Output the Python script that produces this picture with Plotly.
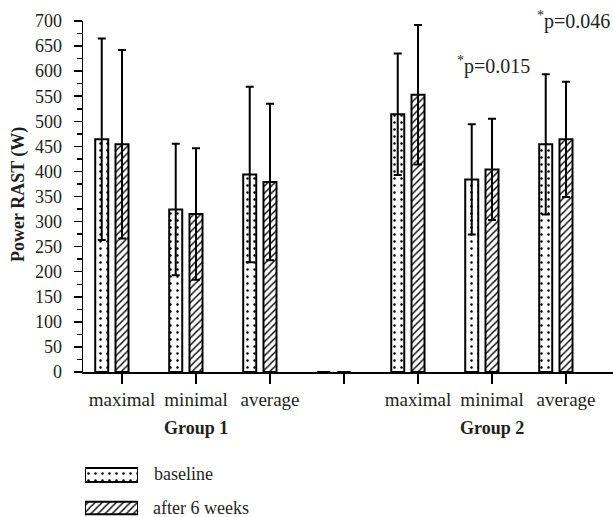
import plotly.graph_objects as go

# ---- data ----
categories = ["G1 maximal", "G1 minimal", "G1 average", "gap",
              "G2 maximal", "G2 minimal", "G2 average"]
tick_labels = ["maximal", "minimal", "average", "", "maximal", "minimal", "average"]
group_labels = ["Group 1", "Group 2"]
group_centers = ["G1 minimal", "G2 minimal"]
baseline = [464, 324, 394, 0, 514, 384, 454]
baseline_sd = [201, 131, 175, 0, 121, 110, 140]
after6 = [454, 315, 379, 0, 553, 404, 464]
after6_sd = [188, 131, 156, 0, 139, 101, 115]
series_names = ["baseline", "after 6 weeks"]
y_ticks = list(range(0, 701, 50))

FONT = "Liberation Serif"
W, H = 613, 517
L, T = 83, 21
PLOT_W = W - L
PLOT_H = H - T
Y0_PX = 372


def px_x(p):
    return (p - L) / PLOT_W


def px_y(p):
    return (H - p) / PLOT_H


fig = go.Figure()

common = dict(marker_line=dict(color="black", width=2), cliponaxis=False,
              showlegend=False, hoverinfo="skip")
err_style = dict(type="data", visible=True, color="black", thickness=2, width=4)
dots = dict(shape=".", fgcolor="black", bgcolor="white", size=7, solidity=0.1)
hatch = dict(shape="/", fgcolor="black", bgcolor="white", size=5, solidity=0.28)

fig.add_trace(go.Bar(
    x=categories, y=baseline, name=series_names[0],
    width=0.176, offset=-0.362,
    marker=dict(color="white", pattern=dots),
    error_y=dict(array=baseline_sd, **err_style),
    **common))
fig.add_trace(go.Bar(
    x=categories, y=after6, name=series_names[1],
    width=0.176, offset=-0.088,
    marker=dict(color="white", pattern=hatch),
    error_y=dict(array=after6_sd, **err_style),
    **common))

# ---- legend swatches (drawn as bars on a small helper axis) ----
legend_vals = [1, 1]
legend_pos = [1, 0]
fig.add_trace(go.Bar(
    x=[legend_vals[0]], y=[legend_pos[0]], orientation="h", width=0.42,
    xaxis="x2", yaxis="y2", marker=dict(color="white", pattern=dots),
    **common))
fig.add_trace(go.Bar(
    x=[legend_vals[1]], y=[legend_pos[1]], orientation="h", width=0.38,
    xaxis="x2", yaxis="y2", marker=dict(color="white", pattern=hatch),
    **common))

y_dom_bottom = px_y(Y0_PX)

fig.update_layout(
    template="none",
    width=W, height=H,
    margin=dict(l=L, r=0, t=T, b=0, autoexpand=False),
    paper_bgcolor="white", plot_bgcolor="white",
    barmode="overlay",
    font=dict(family=FONT, size=18, color="#231f20"),
    xaxis=dict(
        type="category", categoryorder="array", categoryarray=categories,
        range=[-0.527, 6.635], domain=[0, 1], automargin=False,
        tickmode="array", tickvals=categories, ticktext=tick_labels,
        ticks="outside", ticklen=10, tickwidth=1.5, tickcolor="black",
        showline=True, linecolor="black", linewidth=1.5,
        showgrid=False, zeroline=False, anchor="y",
        tickfont=dict(family=FONT, size=19),
        ticklabelstandoff=0,
    ),
    yaxis=dict(
        range=[0, 700], domain=[y_dom_bottom, 1], automargin=False,
        tickmode="array", tickvals=y_ticks,
        ticks="outside", ticklen=8, tickwidth=1.5, tickcolor="black",
        minor=dict(dtick=25, ticks="outside", ticklen=5, tickwidth=1.5,
                   tickcolor="black", showgrid=False),
        showline=True, linecolor="black", linewidth=1.5,
        showgrid=False, zeroline=False, anchor="x",
        tickfont=dict(family=FONT, size=18),
        ticklabelstandoff=8,
    ),
    xaxis2=dict(domain=[px_x(85), px_x(138)], range=[0, 1], visible=False,
                anchor="y2", fixedrange=True, automargin=False),
    yaxis2=dict(domain=[0, px_y(463)], range=[-0.2727, 1.3636], visible=False,
                anchor="x2", fixedrange=True, automargin=False),
)

annotations = [
    dict(text="<b>Power RAST (W)</b>", xref="paper", yref="paper",
         x=px_x(18), y=px_y(195), textangle=-90, showarrow=False,
         font=dict(family=FONT, size=18), xanchor="center", yanchor="middle"),
    dict(text="<sup>*</sup>p=0.015", xref="paper", yref="paper",
         x=px_x(493), y=px_y(66), showarrow=False,
         font=dict(family=FONT, size=20), xanchor="center", yanchor="middle"),
    dict(text="<sup>*</sup>p=0.046", xref="paper", yref="paper",
         x=px_x(573), y=px_y(20), showarrow=False,
         font=dict(family=FONT, size=20), xanchor="center", yanchor="middle"),
    dict(text=series_names[0], xref="paper", yref="paper",
         x=px_x(152), y=px_y(474), showarrow=False, xanchor="left",
         yanchor="middle", font=dict(family=FONT, size=18)),
    dict(text=series_names[1], xref="paper", yref="paper",
         x=px_x(151), y=px_y(508), showarrow=False, xanchor="left",
         yanchor="middle", font=dict(family=FONT, size=18)),
]
for g, c in zip(group_labels, group_centers):
    annotations.append(dict(text="<b>%s</b>" % g, xref="x", yref="paper",
                            x=c, y=px_y(428), showarrow=False,
                            xanchor="center", yanchor="middle",
                            font=dict(family=FONT, size=18)))
fig.update_layout(annotations=annotations)

fig.write_html("out.html",
               config={"displayModeBar": False, "staticPlot": True},
               post_script="document.body.style.margin='0';"
                           "document.body.style.overflow='hidden';")
